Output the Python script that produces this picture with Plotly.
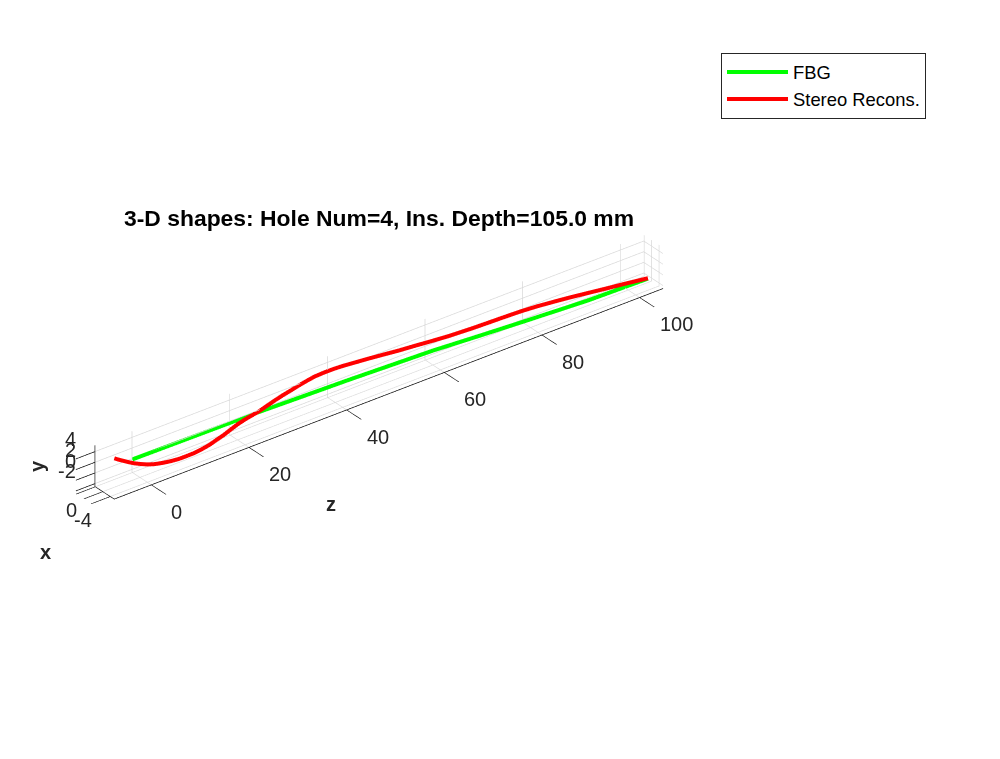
import math
import plotly.graph_objects as go

title = "3-D shapes: Hole Num=4, Ins. Depth=105.0 mm"
series_names = ["FBG", "Stereo Recons."]

fbg_z = [0, 12.87, 25.67, 34.88, 44.09, 52.79, 61.49, 70.38, 79.05, 92.53, 98.57, 104.7]
fbg_x = [0, 0, 0, -0.1, -0.2, -0.3, -0.4, -0.52, -0.65, -0.9, -1.01, -1.14]
fbg_y = [-0.09, -0.2, -0.3, -0.45, -0.59, -0.81, -1.02, -1.48, -1.88, -2.40, -2.43, -2.45]

red_z = [-7.55, -6.30, -5.05, -3.84, -2.62, -1.45, -0.28, 0.90, 2.05, 3.19, 4.34, 5.92, 7.71, 9.29, 11.08, 12.66,
         14.45, 16.07, 17.89, 19.51, 21.33, 22.92, 24.30, 25.88, 27.51, 29.14, 30.78, 32.41, 34.04, 35.67, 37.31,
         39.35, 41.31, 43.33, 45.36, 48.19, 50.83, 54.23, 57.65, 60.86, 64.27, 68.89, 72.32, 75.75, 78.98, 82.41,
         85.84, 89.07, 92.50, 95.93, 100.16, 104.7]
red_x = [-5, -4.7, -4.4, -4.15, -3.9, -3.7, -3.5, -3.3, -3.13, -2.97, -2.8, -2.6, -2.4, -2.2, -2.0, -1.8,
         -1.6, -1.35, -1.1, -0.85, -0.6, -0.4, -0.2, 0, 0, 0, 0, 0, 0, 0, 0,
         0, -0.1, -0.13, -0.15, -0.18, -0.2, -0.28, -0.35, -0.42, -0.5, -0.6, -0.65, -0.7, -0.75, -0.8,
         -0.85, -0.9, -0.95, -1.0, -1.07, -1.14]
red_y = [5.06, 4.20, 3.39, 2.62, 1.89, 1.28, 0.70, 0.17, -0.27, -0.61, -0.93, -1.29, -1.60, -1.76, -1.89, -1.88,
         -1.76, -1.54, -1.27, -0.93, -0.56, -0.37, -0.29, -0.19, 0.27, 0.72, 1.12, 1.44, 1.80, 2.09, 2.34,
         2.42, 2.47, 2.37, 2.19, 1.96, 1.70, 1.38, 1.14, 0.89, 0.66, 0.49, 0.42, 0.36, 0.28, 0.07,
         -0.24, -0.56, -0.96, -1.36, -1.82, -2.37]

z_range = [-7.6, 104.8]
x_range = [-5.05, 0.1]
y_range = [-2.55, 5.15]
z_ticks = [0, 20, 40, 60, 80, 100]
x_ticks = [-4, -2, 0]
x_labels = {-4: "-4", 0: "0"}
y_ticks = [-2, 0, 2, 4]

colors = ["#00ff00", "#ff0000"]

fig = go.Figure()
fig.add_trace(go.Scatter3d(x=fbg_z, y=fbg_x, z=fbg_y, mode="lines", name=series_names[0], showlegend=False,
                           line=dict(color=colors[0], width=8)))
fig.add_trace(go.Scatter3d(x=red_z, y=red_x, z=red_y, mode="lines", name=series_names[1], showlegend=False,
                           line=dict(color=colors[1], width=8)))
# Legend keys: the 3-D line width reads thinner on screen than the same width in the legend.
for name, color in zip(series_names, colors):
    fig.add_trace(go.Scatter3d(x=[None], y=[None], z=[None], mode="lines", name=name,
                               line=dict(color=color, width=4)))

az = math.radians(37.5)
el = math.radians(30)
dist = 1.25
eye = dict(x=-math.sin(az) * math.cos(el) * dist, y=-math.cos(az) * math.cos(el) * dist, z=math.sin(el) * dist)

span = z_range[1] - z_range[0]
scale = 1.885
FONT = "Liberation Sans, Arial, sans-serif"
DARK = "#262626"
GRID = "#d8d8d8"
TICK_SIZE = 20


def axis(rng, **kw):
    return dict(title=dict(text=""), range=rng, showgrid=True, gridcolor=GRID, gridwidth=1.5, zeroline=False,
                showline=True, linecolor="#000000", linewidth=1.5, ticks="outside", ticklen=24, tickwidth=1.5,
                tickcolor="#000000", showticklabels=False, showbackground=False, showspikes=False, **kw)


def label(x, y, z, text, xanchor, xshift, yshift, bold=False, angle=0):
    return dict(x=x, y=y, z=z, text=f"<b>{text}</b>" if bold else text, showarrow=False, xanchor=xanchor,
                yanchor="middle", xshift=xshift, yshift=yshift, textangle=angle,
                font=dict(family=FONT, size=20 if bold else TICK_SIZE, color=DARK))


# Anchors sit a hair inside the box: plotly hides scene annotations that fall on or past its edge.
z_edge = z_range[0] + 0.1
x_front = x_range[0] + 0.02
x_back = x_range[1] - 0.02
y_floor = y_range[0] + 0.02

annotations = []
for v in z_ticks:
    annotations.append(label(v, x_front, y_floor, str(v), "left", 18, -27))
for v in y_ticks:
    annotations.append(label(z_edge, x_back, v, str(v), "right", -17, 12))
for v, t in x_labels.items():
    annotations.append(label(z_edge, v, y_floor, t, "right", -17, -24))
annotations.append(label(48.6, x_front, y_floor, "z", "center", -58, -110, bold=True))
annotations.append(label(z_edge, x_back, 1.35, "y", "center", -59, 0, bold=True, angle=-90))
annotations.append(label(z_edge, x_front, y_floor, "x", "center", -69, -53, bold=True))

fig.update_layout(
    width=1000, height=759, margin=dict(l=0, r=0, t=0, b=0), paper_bgcolor="white",
    font=dict(family=FONT),
    title=dict(text=f"<b>{title}</b>", x=0.379, y=1 - 218 / 759, xanchor="center", yanchor="middle",
               font=dict(family=FONT, size=22.9, color="black")),
    legend=dict(x=0.721, y=1 - 52.5 / 759, xanchor="left", yanchor="top", bgcolor="white", bordercolor="#262626",
                borderwidth=1, itemwidth=61, font=dict(family=FONT, size=18.4, color="black")),
    scene=dict(
        domain=dict(x=[0, 0.758], y=[0.033, 1]),
        aspectmode="manual",
        aspectratio=dict(x=scale, y=scale * (x_range[1] - x_range[0]) / span, z=scale * (y_range[1] - y_range[0]) / span),
        camera=dict(projection=dict(type="orthographic"), eye=eye, up=dict(x=0, y=0, z=1), center=dict(x=0, y=0, z=0)),
        xaxis=axis(z_range, tickvals=z_ticks),
        yaxis=axis(x_range, tickvals=x_ticks),
        zaxis=axis(y_range, tickvals=y_ticks),
        annotations=annotations,
    ),
)
fig.write_html("out.html", post_script="document.body.style.margin='0';", config={"displayModeBar": False})
